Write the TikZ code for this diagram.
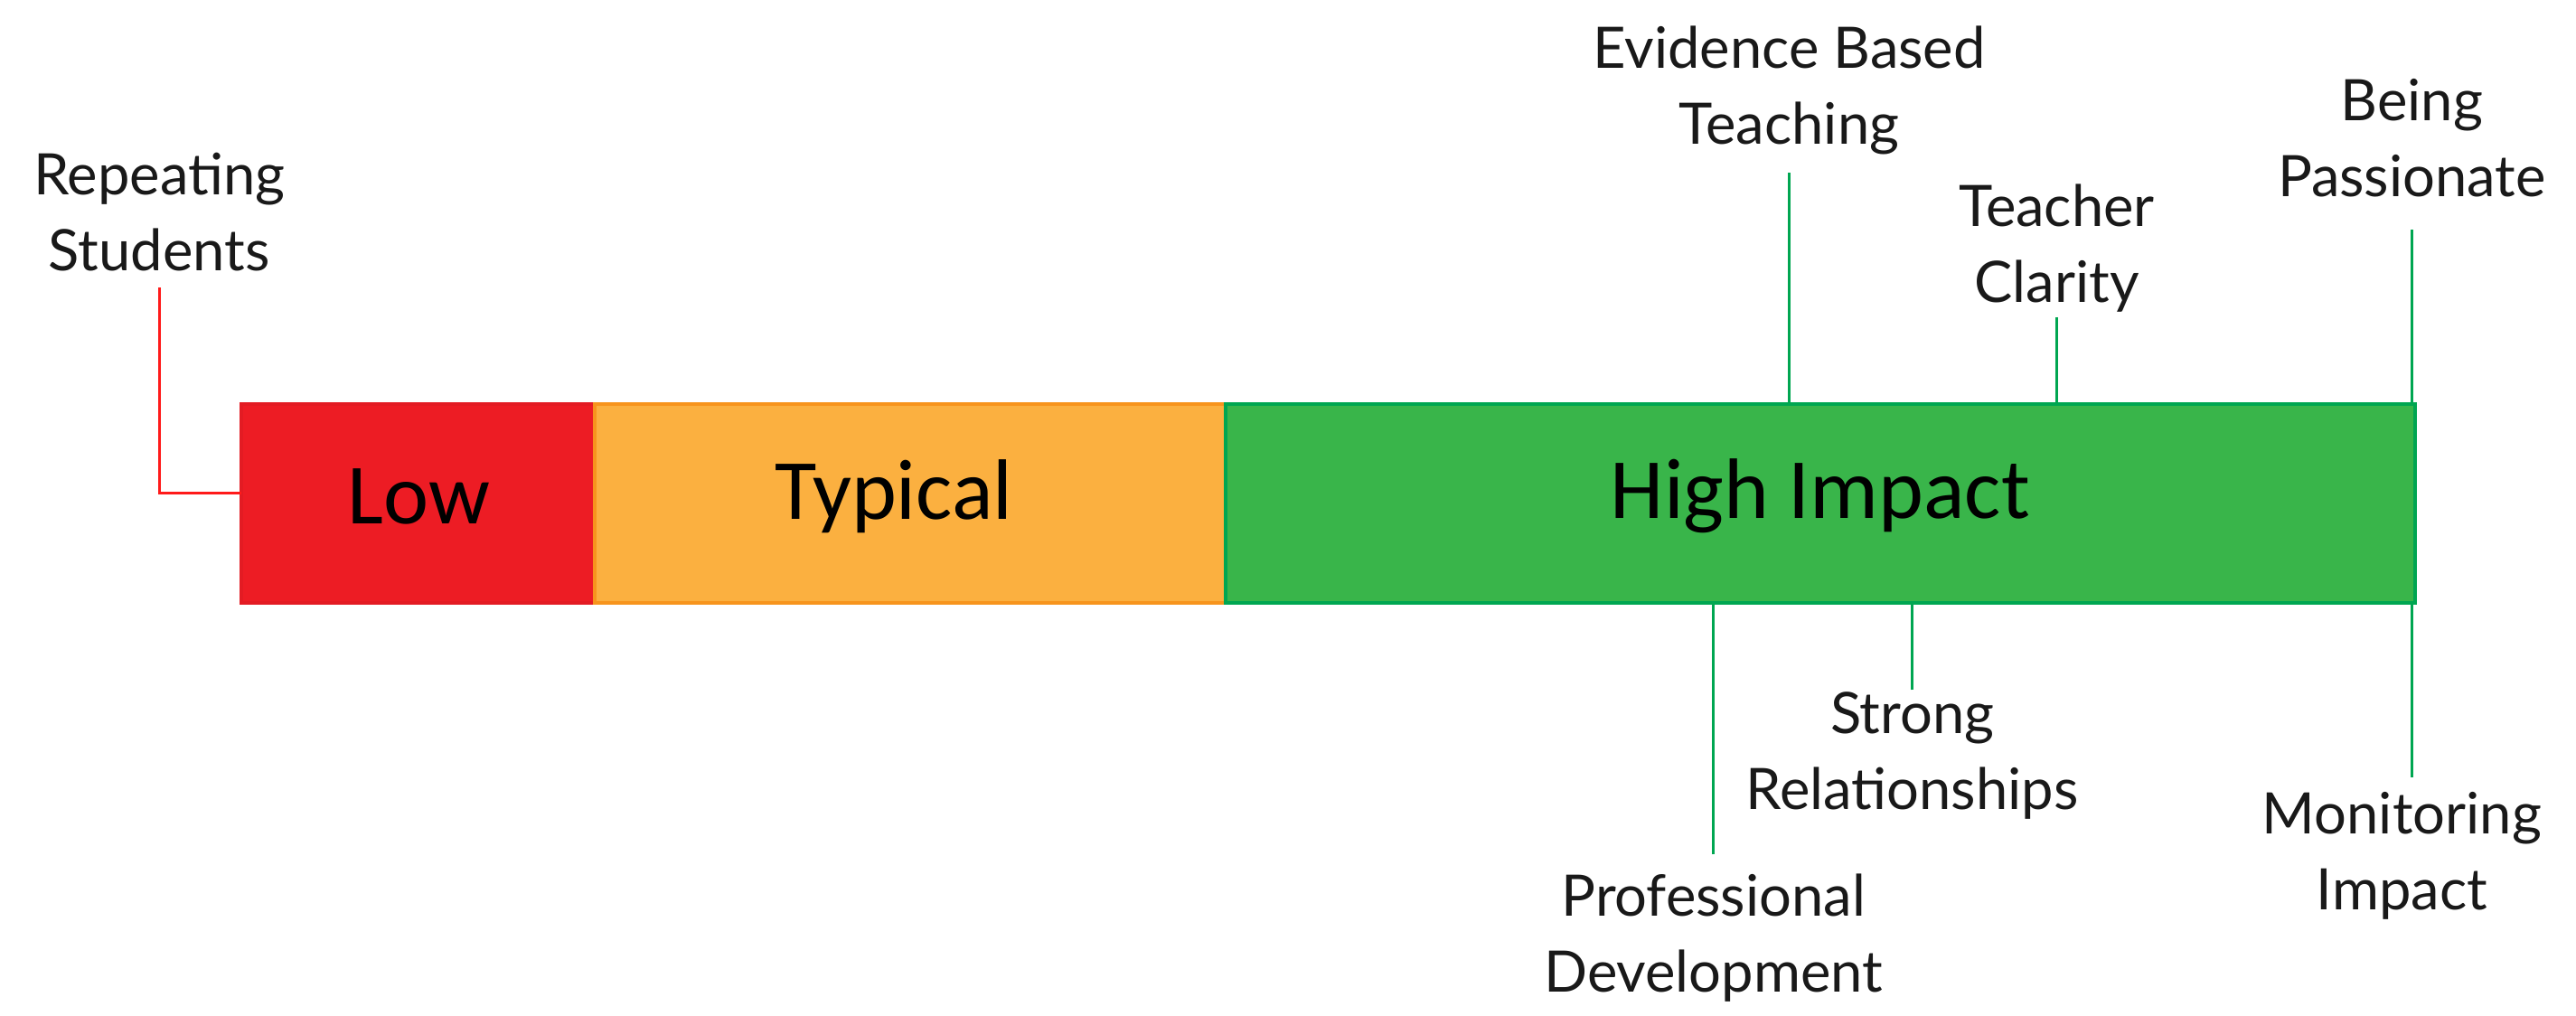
\documentclass[tikz,border=0pt]{standalone}
\usepackage{fontspec}
\setmainfont{Lato}
\newfontfamily\barfont{Carlito}
\definecolor{lowred}{HTML}{ED1C24}
\definecolor{lowedge}{HTML}{E31B23}
\definecolor{typorange}{HTML}{FBB040}
\definecolor{typedge}{HTML}{F7941D}
\definecolor{highgreen}{HTML}{39B54A}
\definecolor{highedge}{HTML}{00A651}
\definecolor{linkgreen}{HTML}{00A651}
\definecolor{linkred}{HTML}{FF1A1A}
\tikzset{
  segbox/.style={anchor=north west, inner sep=0pt, outer sep=0pt, line width=1.2pt,
    minimum height=2.199cm, text=black},
  seglabel/.style={inner sep=0pt, font=\barfont\fontsize{27}{30}\selectfont, text=black},
  lbl/.style={align=center, inner sep=0pt, font=\fontsize{18}{24}\selectfont, text=black!90},
  glink/.style={draw=linkgreen, line width=0.9pt},
  rlink/.style={draw=linkred, line width=0.9pt}
}
\begin{document}
\begin{tikzpicture}[x=0.018176cm, y=-0.018176cm]
\useasboundingbox (0,0) rectangle (1568,618);
% bar segments
\node[segbox, fill=lowred, draw=lowedge, minimum width=3.908cm] (low) at (147,246) {};
\node[segbox, fill=typorange, draw=typedge, minimum width=6.980cm] (typ) at (362,246) {};
\node[segbox, fill=highgreen, draw=highedge, minimum width=13.159cm] (high) at (746,246) {};
\node[seglabel] (lowtxt) at (255,302) {Low};
\node[seglabel] (typtxt) at (544,302) {Typical};
\node[seglabel] (hightxt) at (1108,302) {High Impact};
% labels
\node[lbl] (rep) at (97,129) {Repeating\\Students};
\node[lbl] (ebt) at (1089,55) {Evidence Based\\Teaching};
\node[lbl] (tc) at (1252,151) {Teacher\\Clarity};
\node[lbl] (bp) at (1468,84) {Being\\Passionate};
\node[lbl] (sr) at (1164,460) {Strong\\Relationships};
\node[lbl] (pd) at (1043,571) {Professional\\Development};
\node[lbl] (mi) at (1462,521) {Monitoring\\Impact};
% connector ends
\coordinate (rep-a) at (97,175);
\coordinate (rep-b) at (97,300);
\coordinate (ebt-a) at (1089,105);
\coordinate (tc-a) at (1252,193);
\coordinate (bp-a) at (1468,140);
\coordinate (sr-a) at (1164,420);
\coordinate (pd-a) at (1043,520);
\coordinate (mi-a) at (1468,473);
% connectors
\draw[rlink] (rep-a) -- (rep-b) -- (rep-b -| low.west);
\draw[glink] (ebt-a) -- (ebt-a |- high.north);
\draw[glink] (tc-a) -- (tc-a |- high.north);
\draw[glink] (bp-a) -- (bp-a |- high.north);
\draw[glink] (sr-a) -- (sr-a |- high.south);
\draw[glink] (pd-a) -- (pd-a |- high.south);
\draw[glink] (mi-a) -- (mi-a |- high.south);
\end{tikzpicture}
\end{document}
